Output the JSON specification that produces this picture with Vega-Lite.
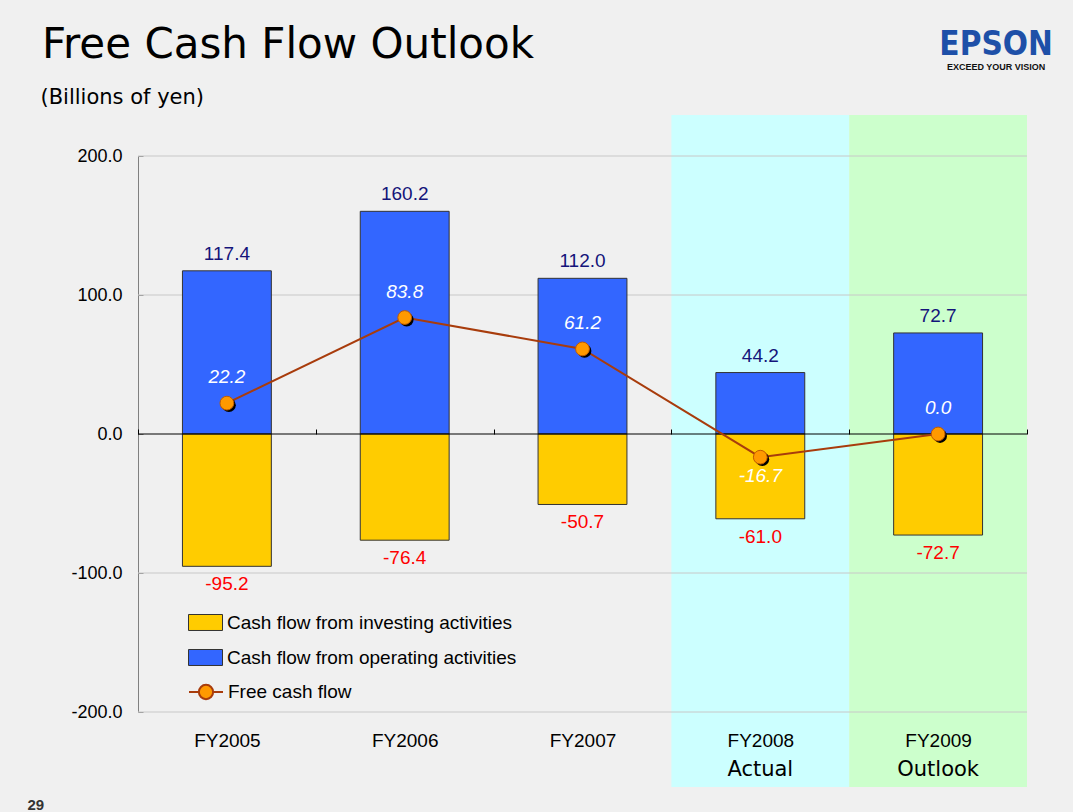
{
  "$schema": "https://vega.github.io/schema/vega-lite/v6.json",
  "width": 889,
  "height": 556,
  "autosize": "none",
  "padding": {"left": 138, "top": 156, "right": 46, "bottom": 100},
  "background": "#f0f0f0",
  "config": {
    "view": {"stroke": null},
    "locale": {"number": {"decimal": ".", "thousands": ",", "grouping": [3], "currency": ["$", ""], "minus": "-"}},
    "axisY": {
      "domainColor": "#808080",
      "tickColor": "#808080",
      "tickSize": -5,
      "labelPadding": 21,
      "labelFont": "Liberation Sans",
      "labelFontSize": 18,
      "labelColor": "#000000",
      "grid": false,
      "titleAngle": 0,
      "titleX": -98,
      "titleY": -59,
      "titleAlign": "left",
      "titleBaseline": "middle",
      "titleFont": "DejaVu Sans",
      "titleFontSize": 21,
      "titleFontWeight": "normal",
      "titleColor": "#000000"
    }
  },
  "data": {
    "values": [
      {"fy": "FY2005", "operating": 117.4, "investing": -95.2, "fcf": 22.2, "note": ""},
      {"fy": "FY2006", "operating": 160.2, "investing": -76.4, "fcf": 83.8, "note": ""},
      {"fy": "FY2007", "operating": 112.0, "investing": -50.7, "fcf": 61.2, "note": ""},
      {"fy": "FY2008", "operating": 44.2, "investing": -61.0, "fcf": -16.7, "note": "Actual"},
      {"fy": "FY2009", "operating": 72.7, "investing": -72.7, "fcf": 0.0, "note": "Outlook"}
    ]
  },
  "encoding": {
    "x": {
      "field": "fy",
      "type": "nominal",
      "scale": {"domain": ["FY2005", "FY2006", "FY2007", "FY2008", "FY2009"], "paddingInner": 0, "paddingOuter": 0},
      "axis": {
        "title": "29",
        "titleX": -111,
        "titleY": 370,
        "titleAlign": "left",
        "titleBaseline": "middle",
        "titleFont": "Liberation Sans",
        "titleFontSize": 15,
        "titleFontWeight": "bold",
        "titleColor": "#333333",
        "offset": -278,
        "domain": false,
        "ticks": true,
        "tickSize": -5,
        "tickColor": "#000000",
        "tickBand": "extent",
        "labelPadding": 302,
        "labelAngle": 0,
        "labelFont": "Liberation Sans",
        "labelFontSize": 19,
        "labelColor": "#000000",
        "zindex": 1
      }
    }
  },
  "layer": [
    {
      "transform": [{"filter": "datum.fy === 'FY2008'"}],
      "mark": {"type": "rect", "color": "#ccffff"},
      "encoding": {
        "y": {"datum": 229.5, "type": "quantitative", "title": "(Billions of yen)"},
        "y2": {"datum": -254}
      }
    },
    {
      "transform": [{"filter": "datum.fy === 'FY2009'"}],
      "mark": {"type": "rect", "color": "#ccffcc"},
      "encoding": {
        "y": {"datum": 229.5, "type": "quantitative", "title": "(Billions of yen)"},
        "y2": {"datum": -254}
      }
    },
    {
      "data": {"values": [{"v": 200}, {"v": 100}, {"v": -100}, {"v": -200}]},
      "mark": {"type": "rule", "color": "#c8c8c8", "strokeWidth": 1},
      "encoding": {
        "x": null,
        "y": {"field": "v", "type": "quantitative", "title": "(Billions of yen)"}
      }
    },
    {
      "mark": {"type": "bar", "width": {"band": 0.5}, "stroke": "#333333", "strokeWidth": 1},
      "encoding": {
        "y": {
          "field": "operating",
          "type": "quantitative",
          "scale": {"domain": [-200, 200], "nice": false},
          "axis": {"title": "(Billions of yen)", "values": [-200, -100, 0, 100, 200], "format": ".1f"}
        },
        "color": {
          "datum": "Cash flow from operating activities",
          "scale": {
            "domain": ["Cash flow from investing activities", "Cash flow from operating activities"],
            "range": ["#ffcc00", "#3366ff"]
          },
          "legend": {
            "title": null,
            "orient": "none",
            "legendX": 50,
            "legendY": 449,
            "symbolType": "M-1,-0.47H1V0.47H-1Z",
            "symbolSize": 1156,
            "symbolStrokeColor": "#333333",
            "symbolStrokeWidth": 1,
            "symbolOpacity": 1,
            "labelFont": "Liberation Sans",
            "labelFontSize": 19,
            "labelColor": "#000000",
            "labelOffset": 4,
            "labelLimit": 600,
            "rowPadding": 7
          }
        }
      }
    },
    {
      "mark": {"type": "bar", "width": {"band": 0.5}, "stroke": "#333333", "strokeWidth": 1},
      "encoding": {
        "y": {"field": "investing", "type": "quantitative", "title": "(Billions of yen)"},
        "color": {"datum": "Cash flow from investing activities"}
      }
    },
    {
      "data": {"values": [{"v": 0}]},
      "mark": {"type": "rule", "color": "#000000", "strokeWidth": 1},
      "encoding": {
        "x": null,
        "y": {"field": "v", "type": "quantitative", "title": "(Billions of yen)"}
      }
    },
    {
      "mark": {"type": "line", "strokeWidth": 2},
      "encoding": {
        "y": {"field": "fcf", "type": "quantitative", "title": "(Billions of yen)"},
        "stroke": {
          "datum": "Free cash flow",
          "scale": {"range": ["#a83c0c"]},
          "legend": {
            "title": null,
            "orient": "none",
            "legendX": 50,
            "legendY": 518,
            "symbolType": "M-1,0H-0.42M0.42,0H1M0.42,0A0.42,0.42,0,1,1,-0.42,0A0.42,0.42,0,1,1,0.42,0",
            "symbolSize": 1156,
            "symbolStrokeWidth": 2,
            "labelFont": "Liberation Sans",
            "labelFontSize": 19,
            "labelColor": "#000000",
            "labelOffset": 4,
            "labelLimit": 600,
            "encode": {"symbols": {"update": {"fill": {"value": "#ff9900"}, "stroke": {"value": "#a83c0c"}, "strokeWidth": {"value": 2}, "opacity": {"value": 1}}}}
          }
        }
      }
    },
    {
      "mark": {"type": "point", "filled": true, "shape": "circle", "size": 190, "color": "#000000", "opacity": 1, "xOffset": 2, "yOffset": 2},
      "encoding": {
        "y": {"field": "fcf", "type": "quantitative", "title": "(Billions of yen)"}
      }
    },
    {
      "mark": {"type": "point", "filled": true, "shape": "circle", "size": 190, "fill": "#ff9900", "stroke": "#c05a00", "strokeWidth": 1, "opacity": 1},
      "encoding": {
        "y": {"field": "fcf", "type": "quantitative", "title": "(Billions of yen)"}
      }
    },
    {
      "mark": {"type": "text", "font": "Liberation Sans", "fontSize": 19, "color": "#14147a", "baseline": "middle", "dy": -17},
      "encoding": {
        "y": {"field": "operating", "type": "quantitative", "title": "(Billions of yen)"},
        "text": {"field": "operating", "type": "quantitative", "format": ".1f"}
      }
    },
    {
      "mark": {"type": "text", "font": "Liberation Sans", "fontSize": 19, "color": "#ff0000", "baseline": "middle", "dy": 18},
      "encoding": {
        "y": {"field": "investing", "type": "quantitative", "title": "(Billions of yen)"},
        "text": {"field": "investing", "type": "quantitative", "format": ".1f"}
      }
    },
    {
      "transform": [{"filter": "datum.fcf >= 0"}],
      "mark": {"type": "text", "font": "Liberation Sans", "fontSize": 19, "fontStyle": "italic", "color": "#ffffff", "baseline": "middle", "dy": -26},
      "encoding": {
        "y": {"field": "fcf", "type": "quantitative", "title": "(Billions of yen)"},
        "text": {"field": "fcf", "type": "quantitative", "format": ".1f"}
      }
    },
    {
      "transform": [{"filter": "datum.fcf < 0"}],
      "mark": {"type": "text", "font": "Liberation Sans", "fontSize": 19, "fontStyle": "italic", "color": "#ffffff", "baseline": "middle", "dy": 19},
      "encoding": {
        "y": {"field": "fcf", "type": "quantitative", "title": "(Billions of yen)"},
        "text": {"field": "fcf", "type": "quantitative", "format": ".1f"}
      }
    },
    {
      "transform": [{"filter": "datum.note !== ''"}],
      "mark": {"type": "text", "font": "DejaVu Sans", "fontSize": 21, "color": "#000000", "baseline": "middle"},
      "encoding": {
        "y": {"datum": -242, "type": "quantitative", "title": "(Billions of yen)"},
        "text": {"field": "note", "type": "nominal"}
      }
    },
    {
      "data": {"values": [{"label": "Free Cash Flow Outlook"}]},
      "mark": {"type": "text", "font": "DejaVu Sans", "fontSize": 42, "color": "#000000", "baseline": "middle", "align": "left", "dx": -185},
      "encoding": {
        "x": {"datum": "FY2005"},
        "y": {"datum": 280, "type": "quantitative", "title": "(Billions of yen)"},
        "text": {"field": "label", "type": "nominal"}
      }
    },
    {
      "data": {"values": [{"label": "EPSON"}]},
      "mark": {"type": "text", "font": "DejaVu Sans Condensed", "fontSize": 33, "fontWeight": "bold", "color": "#1e50a8", "baseline": "middle", "align": "center", "dx": 58},
      "encoding": {
        "x": {"datum": "FY2009"},
        "y": {"datum": 280, "type": "quantitative", "title": "(Billions of yen)"},
        "text": {"field": "label", "type": "nominal"}
      }
    },
    {
      "data": {"values": [{"label": "EXCEED YOUR VISION"}]},
      "mark": {"type": "text", "font": "Liberation Sans", "fontSize": 9, "fontWeight": "bold", "color": "#111111", "baseline": "middle", "align": "center", "dx": 58},
      "encoding": {
        "x": {"datum": "FY2009"},
        "y": {"datum": 264, "type": "quantitative", "title": "(Billions of yen)"},
        "text": {"field": "label", "type": "nominal"}
      }
    }
  ]
}
